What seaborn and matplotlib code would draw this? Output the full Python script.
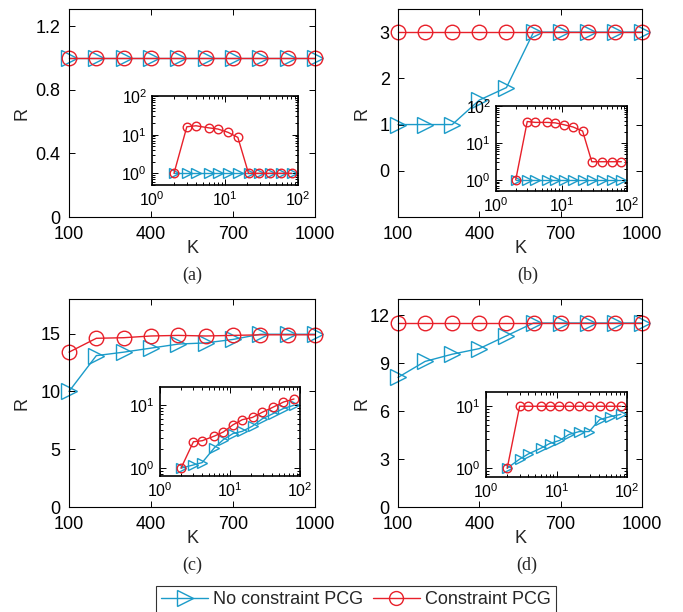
import matplotlib
matplotlib.use("Agg")
import matplotlib.pyplot as plt
import seaborn as sns
from matplotlib.lines import Line2D

# ---------------- data ----------------
K = [100, 200, 300, 400, 500, 600, 700, 800, 900, 1000]
ins_x = [2, 3, 4, 6, 8, 11, 15, 21, 29, 41, 58, 82]

a_blue = [1, 1, 1, 1, 1, 1, 1, 1, 1, 1]
a_red = [1, 1, 1, 1, 1, 1, 1, 1, 1, 1]
a_ins_blue = [1, 1, 1, 1, 1, 1, 1, 1, 1, 1, 1, 1]
a_ins_red = [1, 16, 17, 15, 14, 11.5, 8.5, 1, 1, 1, 1, 1]

b_blue = [1, 1, 1, 1.53, 1.8, 3, 3, 3, 3, 3]
b_red = [3, 3, 3, 3, 3, 3, 3, 3, 3, 3]
b_ins_blue = [1, 1, 1, 1, 1, 1, 1, 1, 1, 1, 1, 1]
b_ins_red = [1, 38, 36, 36, 35, 31, 27, 21, 3.1, 3.1, 3.1, 3.1]

c_blue = [10.0, 13.1, 13.4, 13.75, 14.1, 14.2, 14.5, 14.95, 14.95, 14.95]
c_red = [13.4, 14.6, 14.65, 14.8, 14.85, 14.8, 14.85, 14.9, 14.9, 14.9]
c_ins_blue = [1, 1.12, 1.22, 2.1, 2.8, 3.5, 3.8, 4.6, 6.0, 7.2, 8.7, 9.8]
c_ins_red = [1, 2.6, 2.7, 3.2, 3.7, 4.8, 5.8, 6.3, 7.6, 9.1, 11, 12.3]

d_blue = [8.1, 9.1, 9.55, 9.9, 10.7, 11.5, 11.5, 11.5, 11.5, 11.5]
d_red = [11.5, 11.5, 11.5, 11.5, 11.5, 11.5, 11.5, 11.5, 11.5, 11.5]
d_ins_blue = [1, 1.4, 1.7, 2.1, 2.5, 2.8, 3.5, 3.9, 3.9, 6.1, 6.8, 7.4]
d_ins_red = [1, 10, 10, 10, 10, 10, 10, 10, 10, 10, 10, 10]

BLUE = '#1b9bc9'
RED = '#e8202a'

sns.set_theme(style="white")
plt.rcParams['font.family'] = ['Liberation Sans', 'DejaVu Sans']
plt.rcParams['mathtext.default'] = 'regular'

W, H = 683, 612
fig = plt.figure(figsize=(W / 100, H / 100), dpi=100)


def px_axes(x0, y0, x1, y1):
    # pixel box (top-left origin) -> figure axes
    return fig.add_axes([x0 / W, 1 - y1 / H, (x1 - x0) / W, (y1 - y0) / H])


def style(ax, size, lw=0.8, xpad=3.5, ypad=3.5):
    ax.tick_params(which='both', direction='in', top=True, right=True,
                   bottom=True, left=True, colors='black', labelsize=size,
                   width=0.7)
    ax.tick_params(axis='x', pad=xpad)
    ax.tick_params(axis='y', pad=ypad)
    ax.tick_params(which='major', length=4)
    ax.tick_params(which='minor', length=2)
    for s in ax.spines.values():
        s.set_color('black')
        s.set_linewidth(lw)


def draw(ax, x, yb, yr, ms, clip=True):
    sns.lineplot(x=x, y=yb, ax=ax, color=BLUE, marker='>', markersize=ms,
                 markerfacecolor='none', markeredgecolor=BLUE,
                 markeredgewidth=1, linewidth=1, clip_on=clip)
    sns.lineplot(x=x, y=yr, ax=ax, color=RED, marker='o', markersize=ms * 0.95,
                 markerfacecolor='none', markeredgecolor=RED,
                 markeredgewidth=1, linewidth=1, clip_on=clip)


panels = [
    # main box, yticks, ylim, ylabel x, inset box, inset ylim, data, tag pos
    ((69, 9, 315, 217), [0, 0.4, 0.8, 1.2], (0, 1.31), -0.19,
     (152, 96, 298, 185), (0.5, 100), (a_blue, a_red, a_ins_blue, a_ins_red), '(a)', (192, 275)),
    ((398, 9, 642, 217), [0, 1, 2, 3], (-1, 3.5), -0.148,
     (496, 106, 627, 191), (0.5, 100), (b_blue, b_red, b_ins_blue, b_ins_red), '(b)', (528, 275)),
    ((69, 299, 315, 507), [0, 5, 10, 15], (0, 18), -0.19,
     (160, 387, 300, 476), (0.75, 19), (c_blue, c_red, c_ins_blue, c_ins_red), '(c)', (192, 565)),
    ((398, 299, 642, 507), [0, 3, 6, 9, 12], (0, 13), -0.149,
     (486, 392, 627, 477), (0.72, 17), (d_blue, d_red, d_ins_blue, d_ins_red), '(d)', (527, 565)),
]

for box, yt, yl, ylx, ibox, iyl, (mb, mr, ib, ir), tag, tpos in panels:
    ax = px_axes(*box)
    draw(ax, K, mb, mr, 11, clip=False)
    ax.set_xlim(100, 1000)
    ax.set_ylim(*yl)
    ax.set_xticks([100, 400, 700, 1000])
    ax.set_yticks(yt)
    ax.set_yticklabels([('%g' % v) for v in yt])
    style(ax, 13, xpad=6.5, ypad=6)
    ax.set_xlabel('K', fontsize=13, va='center')
    ax.set_ylabel('R', fontsize=13, va='center')
    ax.xaxis.set_label_coords(0.5, -0.152)
    ax.yaxis.set_label_coords(ylx, 0.5)

    ins = px_axes(*ibox)
    ins.set_facecolor('white')
    draw(ins, ins_x, ib, ir, 6.5)
    ins.set_xscale('log')
    ins.set_yscale('log')
    ins.set_xlim(1, 100)
    ins.set_ylim(*iyl)
    ins.set_xticks([1, 10, 100])
    style(ins, 11.5, lw=1.2)

    fig.text(tpos[0] / W, 1 - tpos[1] / H, tag, ha='center', va='center',
             fontsize=13, family=['Liberation Serif', 'DejaVu Serif'])

handles = [
    Line2D([], [], color=BLUE, marker='>', markersize=11, markerfacecolor='none',
           markeredgecolor=BLUE, linewidth=1),
    Line2D([], [], color=RED, marker='o', markersize=10, markerfacecolor='none',
           markeredgecolor=RED, linewidth=1),
]
leg = fig.legend(handles, ['No constraint PCG', 'Constraint PCG'],
                 loc='upper center', bbox_to_anchor=(356 / W, 1 - 586 / H),
                 ncol=2, frameon=True, fancybox=False, edgecolor='black',
                 fontsize=13, handlelength=2.6, handletextpad=0.3,
                 columnspacing=0.5, borderaxespad=0, borderpad=0.3)
leg.get_frame().set_linewidth(0.8)

fig.savefig('out.png', dpi=100)
